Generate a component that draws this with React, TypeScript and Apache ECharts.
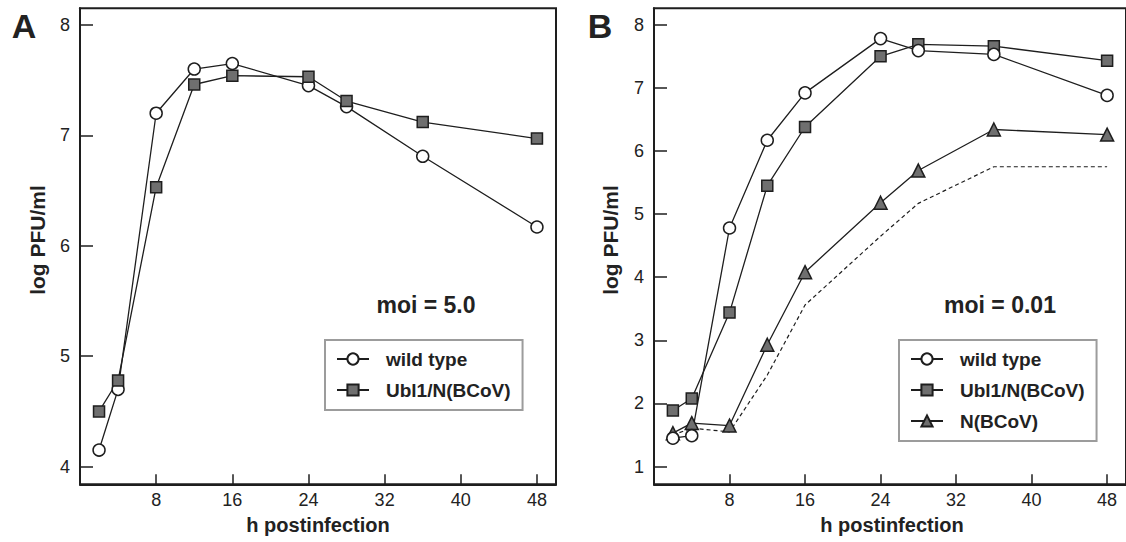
import React, { useEffect, useRef } from "react";
import * as echarts from "echarts";

const hours = [2, 4, 8, 12, 16, 24, 28, 36, 48];
const xTickValues = [8, 16, 24, 32, 40, 48];
const yTicksA = [4, 5, 6, 7, 8];
const yTicksB = [1, 2, 3, 4, 5, 6, 7, 8];

const wildTypeA = [4.15, 4.7, 7.2, 7.6, 7.65, 7.45, 7.26, 6.81, 6.17];
const ubl1A = [4.5, 4.78, 6.53, 7.46, 7.54, 7.53, 7.31, 7.12, 6.97];

const wildTypeB = [1.45, 1.49, 4.78, 6.17, 6.92, 7.78, 7.59, 7.53, 6.88];
const ubl1B = [1.89, 2.08, 3.44, 5.45, 6.38, 7.5, 7.69, 7.66, 7.43];
const nBCoVB = [1.53, 1.69, 1.65, 2.93, 4.08, 5.18, 5.69, 6.34, 6.26];
const baselineB = [1.5, 1.61, 1.55, 2.45, 3.56, 4.65, 5.17, 5.75, 5.75];

const NAME_WT = "wild type";
const NAME_UBL = "Ubl1/N(BCoV)";
const NAME_N = "N(BCoV)";

const FONT = "'Liberation Sans', Arial, Helvetica, sans-serif";
const INK = "#1e1e1e";
const GREY = "#6f6f6f";

const pairs = (ys: number[]) => hours.map((h, i) => [h, ys[i]]);

export default function App() {
  const ref = useRef<HTMLDivElement>(null);

  useEffect(() => {
    if (!ref.current) return;
    const chart = echarts.init(ref.current, undefined, { renderer: "svg" });

    const axisX = (gridIndex: number) => ({
      type: "value" as const,
      gridIndex,
      min: 0,
      max: 50,
      splitLine: { show: false },
      axisLine: { show: true, lineStyle: { color: INK, width: 2 } },
      axisTick: {
        show: true,
        inside: true,
        length: 10,
        customValues: xTickValues,
        lineStyle: { color: INK, width: 1.5 },
      },
      axisLabel: {
        customValues: xTickValues,
        margin: 7,
        fontSize: 18,
        color: "#222",
        fontFamily: FONT,
      },
    });

    const axisY = (gridIndex: number, min: number, max: number, ticks: number[]) => ({
      type: "value" as const,
      gridIndex,
      min,
      max,
      splitLine: { show: false },
      axisLine: { show: true, lineStyle: { color: INK, width: 2 } },
      axisTick: {
        show: true,
        inside: true,
        length: 13,
        customValues: ticks,
        lineStyle: { color: INK, width: 1.5 },
      },
      axisLabel: {
        customValues: ticks,
        margin: 10,
        fontSize: 18,
        color: "#222",
        fontFamily: FONT,
      },
    });

    const lineSeries = (
      name: string,
      data: number[],
      idx: number,
      symbol: string,
      size: number,
      fill: string
    ) => ({
      name,
      type: "line" as const,
      xAxisIndex: idx,
      yAxisIndex: idx,
      data: pairs(data),
      symbol,
      symbolSize: size,
      showAllSymbol: true,
      lineStyle: { color: INK, width: 1.3 },
      itemStyle: { color: fill, borderColor: INK, borderWidth: 1.5 },
      emphasis: { disabled: true },
      z: 3,
    });

    const legendBase = {
      orient: "vertical" as const,
      selectedMode: false,
      itemWidth: 32,
      itemHeight: 14,
      itemGap: 11,
      padding: [9, 12, 10, 11],
      borderColor: "#9c9c9c",
      borderWidth: 2,
      backgroundColor: "#fff",
      textStyle: {
        fontSize: 19,
        fontWeight: "bold" as const,
        color: "#222",
        fontFamily: FONT,
        lineHeight: 20,
        padding: [0, 0, 0, 12],
      },
    };

    const text = (
      str: string,
      x: number,
      y: number,
      size: number,
      rotation = 0
    ) => ({
      type: "text" as const,
      x,
      y,
      rotation,
      style: {
        text: str,
        fontSize: size,
        fontWeight: "bold" as const,
        fontFamily: FONT,
        fill: "#222",
        textAlign: "center" as const,
        textVerticalAlign: "middle" as const,
      },
    });

    chart.setOption({
      animation: false,
      backgroundColor: "#fff",
      grid: [
        { left: 80, top: 8.3, width: 476, height: 476, show: true, borderColor: INK, borderWidth: 2, backgroundColor: "transparent" },
        { left: 654, top: 8.3, width: 475, height: 476, show: true, borderColor: INK, borderWidth: 2, backgroundColor: "transparent" },
      ],
      xAxis: [axisX(0), axisX(1)],
      yAxis: [axisY(0, 3.84, 8.15, yTicksA), axisY(1, 0.72, 8.26, yTicksB)],
      legend: [
        { ...legendBase, left: 325, top: 340, data: [NAME_WT, NAME_UBL] },
        { ...legendBase, left: 899, top: 340, data: [NAME_WT, NAME_UBL, NAME_N] },
      ],
      series: [
        lineSeries(NAME_WT, wildTypeA, 0, "circle", 12, "#fff"),
        lineSeries(NAME_UBL, ubl1A, 0, "rect", 11, GREY),
        {
          type: "line",
          xAxisIndex: 1,
          yAxisIndex: 1,
          data: pairs(baselineB),
          symbol: "none",
          lineStyle: { color: INK, width: 1.2, type: [4, 3] },
          emphasis: { disabled: true },
          z: 2,
        },
        lineSeries(NAME_N, nBCoVB, 1, "triangle", 13, GREY),
        lineSeries(NAME_UBL, ubl1B, 1, "rect", 11, GREY),
        lineSeries(NAME_WT, wildTypeB, 1, "circle", 12, "#fff"),
      ],
      graphic: [
        text("A", 24, 25.5, 34),
        text("B", 600, 25.5, 34),
        text("log PFU/ml", 37, 240, 21, Math.PI / 2),
        text("log PFU/ml", 610, 240, 21, Math.PI / 2),
        text("h postinfection", 318, 525, 20),
        text("h postinfection", 892, 525, 20),
        text("moi = 5.0", 426, 305, 23),
        text("moi = 0.01", 1000, 305, 23),
      ],
    });

    return () => chart.dispose();
  }, []);

  return (
    <div
      ref={ref}
      style={{ position: "absolute", left: 0, top: 0, width: 1126, height: 542, background: "#fff" }}
    />
  );
}
